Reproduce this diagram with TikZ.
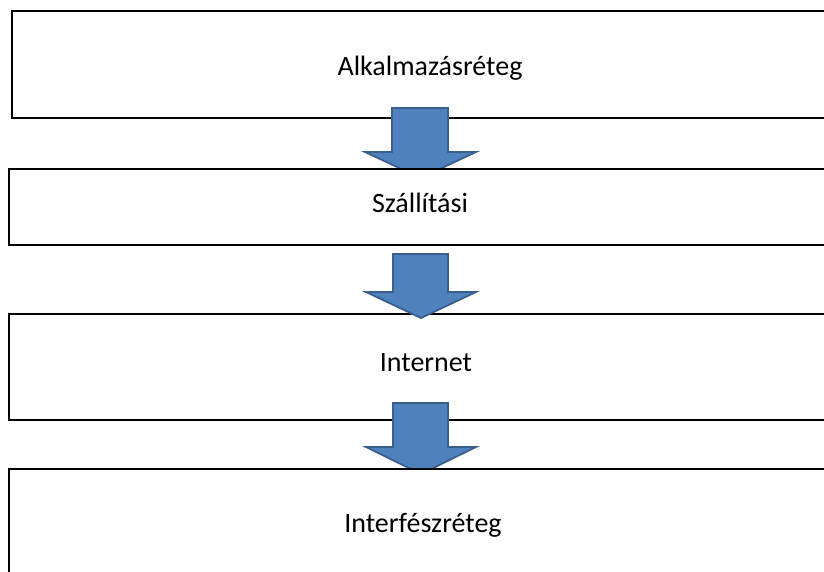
\documentclass[tikz,border=0pt]{standalone}
\usepackage{fontspec}
\setmainfont{Carlito}
\definecolor{arrowfill}{HTML}{4F81BD}
\definecolor{arrowline}{HTML}{3A5F8C}
\begin{document}
\begin{tikzpicture}[x=1pt,y=-1pt,
  layerbox/.style={draw=black, line width=1.8pt, fill=white, rectangle, anchor=north west, inner sep=0pt, outer sep=0pt, minimum width=841pt},
  layertext/.style={font=\fontsize{28}{34}\selectfont, anchor=base, inner sep=0pt},
  blockarrow/.style={fill=arrowfill, draw=arrowline, line width=1.8pt, line join=miter}]
\useasboundingbox (0,0) rectangle (824,572);
\clip (0,0) rectangle (824,572);
% box 1
\node[layerbox, minimum height=107pt] (box1) at (12,11) {};
% arrow 1
\draw[blockarrow] (392,108) -- (448,108) -- (448,152) -- (476,152) -- (420.5,178) -- (365,152) -- (392,152) -- cycle;
% box 2
\node[layerbox, minimum height=76pt] (box2) at (9,169) {};
% box 3
\node[layerbox, minimum height=106pt] (box3) at (9,314) {};
% arrow 2
\draw[blockarrow] (393,254) -- (448,254) -- (448,292) -- (476,292) -- (421,318) -- (366,292) -- (393,292) -- cycle;
% arrow 3
\draw[blockarrow] (393,403) -- (448,403) -- (448,447) -- (476,447) -- (421,474) -- (366,447) -- (393,447) -- cycle;
% box 4
\node[layerbox, minimum height=150pt] (box4) at (9,469) {};
% texts
\node[layertext] (t1) at (430,76) {Alkalmazásréteg};
\node[layertext] (t2) at (420,212) {Szállítási};
\node[layertext] (t3) at (426,371) {Internet};
\node[layertext] (t4) at (423,532) {Interfészréteg};
\end{tikzpicture}
\end{document}
